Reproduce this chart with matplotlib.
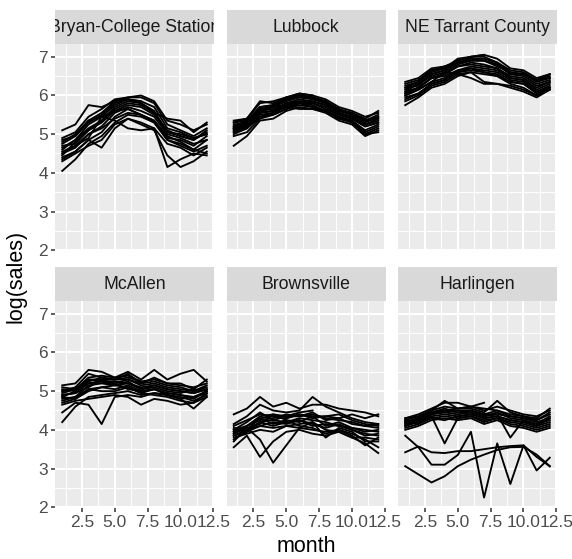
"""Faceted monthly log(sales) lines, one panel per city."""

import matplotlib

matplotlib.use("Agg")
import matplotlib.pyplot as plt
from matplotlib.patches import Rectangle
from matplotlib.transforms import Bbox, TransformedBbox

cities = ["Bryan-College Station", "Lubbock", "NE Tarrant County",
          "McAllen", "Brownsville", "Harlingen"]
months = list(range(1, 13))
x_ticks = [2.5, 5.0, 7.5, 10.0, 12.5]
x_tick_labels = ["2.5", "5.0", "7.5", "10.0", "12.5"]
y_ticks = [2, 3, 4, 5, 6, 7]

bryan = [
    [4.05, 4.35, 4.75, 4.95, 5.30, 5.50, 5.45, 5.30, 4.85, 4.70, 4.55, 4.70],
    [4.35, 4.55, 4.85, 5.05, 5.45, 5.65, 5.50, 5.35, 4.95, 4.80, 4.60, 4.50],
    [4.50, 4.65, 5.00, 5.20, 5.55, 5.70, 5.60, 5.45, 5.00, 4.90, 4.75, 4.85],
    [4.45, 4.80, 5.10, 5.35, 5.65, 5.80, 5.75, 5.55, 5.05, 4.95, 4.85, 5.05],
    [4.60, 4.85, 5.25, 5.45, 5.75, 5.90, 5.85, 5.70, 5.15, 5.05, 4.90, 5.00],
    [4.75, 4.95, 5.35, 5.55, 5.85, 5.95, 5.95, 5.80, 5.25, 5.10, 4.95, 5.15],
    [4.90, 5.05, 5.45, 5.65, 5.90, 5.95, 6.00, 5.85, 5.35, 5.25, 5.10, 5.25],
    [5.10, 5.25, 5.75, 5.70, 5.85, 5.90, 5.80, 5.55, 5.40, 5.35, 5.05, 5.30],
    [4.80, 5.00, 5.35, 5.45, 5.60, 5.65, 5.50, 5.35, 4.90, 4.85, 4.70, 4.95],
    [4.40, 4.55, 4.85, 4.65, 5.15, 5.40, 5.30, 5.15, 4.75, 4.65, 4.45, 4.65],
    [4.55, 4.70, 4.90, 5.45, 5.35, 5.15, 5.10, 5.15, 4.15, 4.35, 4.50, 4.45],
    [4.30, 4.50, 4.70, 4.85, 5.25, 5.40, 5.25, 5.10, 4.45, 4.15, 4.30, 4.55],
    [4.50, 4.70, 5.00, 5.15, 5.40, 5.55, 5.50, 5.30, 4.85, 4.75, 4.60, 4.85],
    [4.65, 4.85, 5.15, 5.35, 5.70, 5.85, 5.80, 5.60, 5.05, 5.00, 4.90, 5.00],
    [4.70, 4.75, 5.10, 5.30, 5.60, 5.75, 5.70, 5.50, 5.10, 4.95, 4.85, 5.10],
    [4.85, 4.95, 5.30, 5.50, 5.80, 5.90, 5.85],
]

lubbock = [
    [4.70, 4.95, 5.35, 5.40, 5.60, 5.70, 5.65, 5.60, 5.40, 5.35, 5.00, 5.15],
    [4.95, 5.05, 5.40, 5.50, 5.65, 5.75, 5.70, 5.60, 5.45, 5.35, 5.10, 5.25],
    [5.00, 5.15, 5.45, 5.55, 5.70, 5.80, 5.80, 5.70, 5.50, 5.40, 5.20, 5.30],
    [5.10, 5.20, 5.55, 5.60, 5.75, 5.85, 5.85, 5.75, 5.55, 5.45, 5.25, 5.40],
    [5.15, 5.25, 5.65, 5.70, 5.85, 5.95, 5.90, 5.80, 5.60, 5.50, 5.30, 5.45],
    [5.20, 5.35, 5.70, 5.75, 5.90, 6.00, 5.95, 5.85, 5.65, 5.55, 5.35, 5.50],
    [5.30, 5.40, 5.80, 5.85, 5.95, 6.05, 6.00, 5.90, 5.70, 5.60, 5.45, 5.55],
    [5.35, 5.40, 5.85, 5.80, 5.95, 6.00, 5.95, 5.80, 5.65, 5.50, 5.35, 5.40],
    [5.15, 5.30, 5.60, 5.65, 5.80, 5.85, 5.80, 5.65, 5.50, 5.40, 5.20, 5.30],
    [5.05, 5.20, 5.50, 5.55, 5.75, 5.80, 5.75, 5.60, 5.45, 5.30, 5.05, 5.20],
    [5.10, 5.25, 5.55, 5.75, 5.70, 5.65, 5.65, 5.55, 5.35, 5.25, 4.95, 5.10],
    [5.05, 5.15, 5.45, 5.50, 5.65, 5.80, 5.70, 5.60, 5.40, 5.30, 5.00, 5.05],
    [5.15, 5.25, 5.55, 5.60, 5.80, 5.90, 5.85, 5.75, 5.55, 5.45, 5.25, 5.35],
    [5.20, 5.30, 5.65, 5.70, 5.90, 6.00, 5.95, 5.85, 5.60, 5.55, 5.35, 5.45],
    [5.25, 5.30, 5.60, 5.70, 5.90, 5.95, 5.95, 5.80, 5.60, 5.55, 5.40, 5.60],
    [5.30, 5.35, 5.70, 5.75, 5.95, 6.05, 6.00],
]

ne_tarrant = [
    [5.75, 5.95, 6.20, 6.30, 6.50, 6.60, 6.55, 6.50, 6.35, 6.30, 6.05, 6.20],
    [5.95, 6.05, 6.30, 6.40, 6.60, 6.70, 6.65, 6.60, 6.40, 6.35, 6.10, 6.25],
    [6.00, 6.15, 6.35, 6.45, 6.65, 6.75, 6.70, 6.65, 6.45, 6.40, 6.15, 6.30],
    [6.05, 6.20, 6.45, 6.55, 6.75, 6.85, 6.80, 6.70, 6.50, 6.45, 6.25, 6.35],
    [6.10, 6.30, 6.50, 6.60, 6.80, 6.90, 6.90, 6.80, 6.55, 6.50, 6.30, 6.40],
    [6.20, 6.35, 6.60, 6.70, 6.90, 7.00, 7.00, 6.85, 6.65, 6.60, 6.40, 6.50],
    [6.30, 6.40, 6.65, 6.75, 6.90, 7.00, 7.05, 6.95, 6.70, 6.65, 6.45, 6.55],
    [6.35, 6.45, 6.70, 6.75, 6.85, 6.95, 6.90, 6.75, 6.60, 6.55, 6.40, 6.45],
    [6.10, 6.20, 6.45, 6.50, 6.65, 6.70, 6.60, 6.55, 6.35, 6.30, 6.10, 6.20],
    [5.85, 6.00, 6.25, 6.35, 6.55, 6.60, 6.35, 6.30, 6.25, 6.15, 6.00, 6.15],
    [6.00, 6.15, 6.35, 6.60, 6.55, 6.45, 6.30, 6.30, 6.20, 6.10, 5.95, 6.15],
    [5.90, 6.05, 6.30, 6.40, 6.60, 6.65, 6.60, 6.50, 6.30, 6.20, 6.00, 6.20],
    [6.05, 6.20, 6.45, 6.55, 6.75, 6.80, 6.75, 6.70, 6.45, 6.40, 6.20, 6.35],
    [6.15, 6.30, 6.55, 6.65, 6.85, 6.95, 6.95, 6.85, 6.60, 6.55, 6.35, 6.45],
    [6.20, 6.25, 6.55, 6.65, 6.85, 6.90, 6.90, 6.80, 6.55, 6.55, 6.40, 6.55],
    [6.25, 6.35, 6.65, 6.70, 6.95, 7.00, 7.05],
]

mcallen = [
    [4.20, 4.60, 4.85, 4.90, 4.95, 5.00, 4.90, 4.95, 4.90, 4.85, 4.75, 4.90],
    [4.45, 4.70, 4.65, 4.15, 4.85, 4.90, 4.85, 4.95, 4.90, 4.80, 4.55, 4.85],
    [4.65, 4.75, 4.80, 4.85, 4.90, 4.85, 4.65, 4.80, 4.75, 4.65, 4.70, 4.85],
    [4.70, 4.80, 5.00, 5.10, 5.05, 5.15, 5.00, 5.05, 4.95, 4.90, 4.85, 5.00],
    [4.75, 4.85, 5.15, 5.20, 5.15, 5.25, 5.05, 5.15, 5.05, 5.00, 4.95, 5.05],
    [4.85, 5.00, 5.30, 5.25, 5.20, 5.30, 5.15, 5.20, 5.10, 5.05, 5.00, 5.10],
    [5.00, 5.10, 5.45, 5.35, 5.30, 5.45, 5.20, 5.35, 5.20, 5.15, 5.10, 5.20],
    [5.15, 5.20, 5.55, 5.50, 5.35, 5.50, 5.30, 5.55, 5.30, 5.45, 5.55, 5.25],
    [4.95, 5.05, 5.20, 5.25, 5.15, 5.20, 5.05, 5.10, 5.00, 4.95, 5.05, 5.00],
    [4.85, 4.80, 5.05, 5.00, 5.00, 5.10, 4.95, 5.05, 4.90, 4.80, 4.85, 4.95],
    [4.90, 4.95, 5.10, 5.30, 5.20, 5.05, 5.00, 5.05, 4.95, 4.90, 4.80, 5.00],
    [4.80, 4.85, 5.05, 5.10, 5.15, 5.10, 4.95, 4.90, 4.85, 4.75, 4.70, 4.95],
    [4.90, 4.95, 5.20, 5.25, 5.25, 5.20, 5.10, 5.15, 5.05, 5.00, 4.95, 5.05],
    [5.00, 5.05, 5.30, 5.30, 5.30, 5.30, 5.20, 5.25, 5.15, 5.10, 5.00, 5.15],
    [5.05, 5.00, 5.25, 5.35, 5.30, 5.35, 5.25, 5.30, 5.20, 5.20, 5.05, 5.30],
    [5.10, 5.05, 5.35, 5.40, 5.35, 5.40, 5.25],
]

brownsville = [
    [3.55, 3.85, 3.30, 3.70, 3.95, 4.00, 3.90, 3.85, 3.95, 3.80, 3.65, 3.40],
    [3.70, 4.05, 3.75, 3.15, 3.60, 4.05, 4.00, 3.95, 4.00, 3.90, 3.75, 3.55],
    [3.80, 3.90, 4.00, 3.95, 4.10, 4.05, 4.20, 3.80, 4.05, 3.95, 3.70, 3.70],
    [3.85, 4.00, 4.10, 4.20, 4.15, 4.25, 4.10, 4.15, 4.10, 4.00, 3.90, 3.85],
    [3.90, 4.10, 4.30, 4.15, 4.25, 4.20, 4.35, 4.10, 4.20, 4.05, 4.00, 3.95],
    [4.00, 4.20, 4.45, 4.25, 4.35, 4.35, 4.45, 4.25, 4.30, 4.15, 4.10, 4.05],
    [4.15, 4.35, 4.65, 4.50, 4.45, 4.50, 4.85, 4.60, 4.45, 4.30, 4.20, 4.15],
    [4.40, 4.55, 4.85, 4.60, 4.70, 4.55, 4.65, 4.65, 4.55, 4.50, 4.45, 4.35],
    [4.10, 4.25, 4.40, 4.35, 4.30, 4.40, 4.30, 4.35, 4.40, 4.25, 4.15, 4.10],
    [3.95, 4.00, 4.20, 4.10, 4.20, 4.25, 4.15, 4.05, 4.15, 4.00, 3.85, 3.90],
    [3.90, 4.05, 4.15, 4.40, 4.25, 4.10, 4.05, 3.90, 4.00, 3.85, 3.60, 3.80],
    [3.75, 3.95, 4.10, 4.05, 4.10, 4.15, 4.20, 4.00, 3.95, 3.80, 3.80, 3.75],
    [3.85, 3.95, 4.20, 4.25, 4.20, 4.30, 4.25, 4.20, 4.10, 4.05, 3.95, 4.00],
    [3.95, 4.10, 4.25, 4.30, 4.40, 4.35, 4.40, 4.30, 4.25, 4.20, 4.10, 4.15],
    [4.05, 4.00, 4.30, 4.35, 4.30, 4.40, 4.35, 4.35, 4.30, 4.40, 4.30, 4.40],
    [4.00, 4.10, 4.35, 4.40, 4.35, 4.45, 4.50],
]

harlingen = [
    [3.85, 3.55, 3.10, 3.10, 3.35, 3.95, 2.25, 3.65, 2.60, 3.60, 2.95, 3.28],
    [3.42, 3.57, 3.42, 3.40, 3.45, 3.45, 3.50, 3.55, 3.58, 3.60, 3.30, 3.06],
    [3.06, 2.85, 2.64, 2.80, 3.06, 3.23, 3.36, 3.48, 3.55, 3.56, 3.36, 3.06],
    [4.05, 4.15, 4.30, 4.25, 4.35, 4.40, 4.30, 4.35, 4.25, 4.20, 4.10, 4.20],
    [4.10, 4.20, 4.35, 3.65, 4.30, 4.35, 4.25, 4.30, 4.20, 4.15, 4.05, 4.15],
    [4.15, 4.25, 4.40, 4.45, 4.40, 4.45, 4.35, 4.40, 3.80, 4.25, 4.15, 4.25],
    [4.20, 4.30, 4.45, 4.55, 4.45, 4.50, 4.40, 4.50, 4.35, 4.30, 4.20, 4.30],
    [4.25, 4.35, 4.50, 4.75, 4.55, 4.55, 4.45, 4.75, 4.45, 4.35, 4.25, 4.40],
    [4.30, 4.40, 4.55, 4.70, 4.70, 4.60, 4.50, 4.60, 4.50, 4.40, 4.35, 4.50],
    [4.10, 4.25, 4.30, 4.35, 4.30, 4.35, 4.20, 4.30, 4.15, 4.10, 4.00, 4.10],
    [4.00, 4.10, 4.25, 4.30, 4.25, 4.30, 4.15, 4.25, 4.10, 4.05, 3.95, 4.05],
    [4.15, 4.20, 4.35, 4.40, 4.35, 4.40, 4.30, 4.35, 4.25, 4.20, 4.10, 4.30],
    [4.20, 4.25, 4.40, 4.50, 4.45, 4.45, 4.35, 4.45, 4.30, 4.25, 4.15, 4.35],
    [4.25, 4.15, 4.45, 4.45, 4.50, 4.50, 4.40, 4.40, 4.35, 4.30, 4.25, 4.45],
    [4.30, 4.35, 4.50, 4.60, 4.55, 4.60, 4.55, 4.50, 4.40, 4.35, 4.30, 4.55],
    [4.20, 4.30, 4.45, 4.50, 4.55, 4.60, 4.70],
]

panel_data = [bryan, lubbock, ne_tarrant, mcallen, brownsville, harlingen]

plt.rcParams["font.family"] = ["Liberation Sans", "DejaVu Sans"]

W, H = 572, 559
fig = plt.figure(figsize=(W / 100, H / 100), dpi=100)

lefts = [55, 226.5, 398]
tops = [44, 301]
pw, ph = 159, 207
strip_h = 34

for i, (city, lines) in enumerate(zip(cities, panel_data)):
    r, c = divmod(i, 3)
    ax = fig.add_axes([lefts[c] / W, 1 - (tops[r] + ph) / H, pw / W, ph / H])
    ax.set_facecolor("#EBEBEB")
    for s in ax.spines.values():
        s.set_visible(False)
    ax.set_xlim(0.45, 12.55)
    ax.set_ylim(1.98, 7.33)
    ax.set_xticks(x_ticks)
    ax.set_xticks([1.25, 3.75, 6.25, 8.75, 11.25], minor=True)
    ax.set_yticks(y_ticks)
    ax.set_yticks([2.5, 3.5, 4.5, 5.5, 6.5], minor=True)
    ax.grid(which="major", color="white", linewidth=1.5)
    ax.grid(which="minor", color="white", linewidth=0.7)
    ax.set_axisbelow(True)
    ax.tick_params(which="minor", length=0)
    ax.tick_params(which="major", length=3, width=1.1, color="#333333",
                   labelsize=12.5, labelcolor="#4D4D4D", pad=2)
    if r == 1:
        ax.set_xticklabels(x_tick_labels)
    else:
        ax.tick_params(axis="x", length=0, labelbottom=False)
    if c != 0:
        ax.tick_params(axis="y", length=0, labelleft=False)

    for ys in lines:
        ax.plot(months[:len(ys)], ys, color="black", linewidth=1.35)

    # facet strip; the label is clipped to it like ggplot does
    strip = Rectangle((0, 1), 1, strip_h / ph, transform=ax.transAxes,
                      facecolor="#D9D9D9", edgecolor="none", clip_on=False)
    ax.add_patch(strip)
    t = ax.text(0.5, 1 + strip_h / ph / 2, city, transform=ax.transAxes,
                ha="center", va="center", fontsize=12.7, color="#1A1A1A")
    t.set_clip_path(None)
    t.set_clip_box(TransformedBbox(Bbox([[0, 1], [1, 1 + strip_h / ph]]),
                                   ax.transAxes))
    t.set_clip_on(True)

fig.text(306 / W, 1 - 546 / H, "month", ha="center", va="center", fontsize=15.5)
fig.text(16 / W, 1 - 276 / H, "log(sales)", ha="center", va="center",
         rotation=90, fontsize=15.5)

fig.savefig("out.png", dpi=100)
